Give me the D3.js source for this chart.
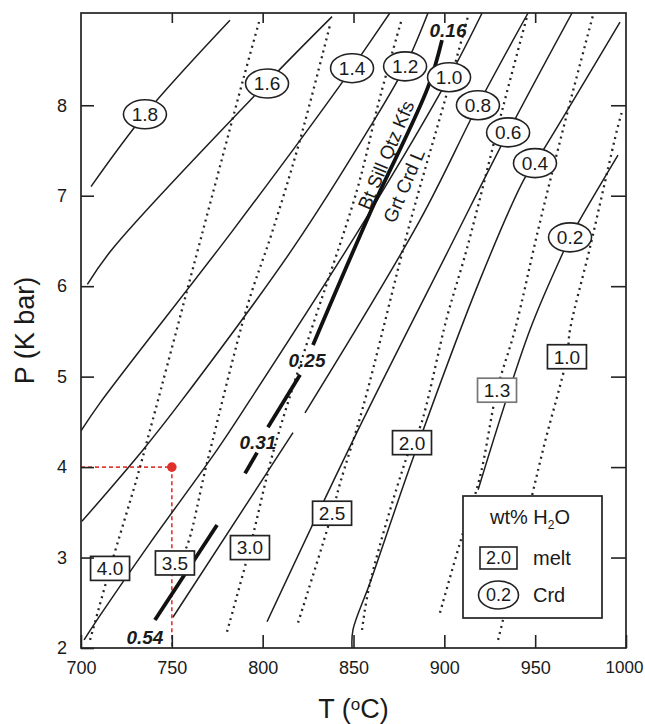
<!DOCTYPE html>
<html><head><meta charset="utf-8">
<script src="https://cdn.jsdelivr.net/npm/d3@7"></script>
<style>
body{margin:0;background:#fff}
text{font-family:"Liberation Sans",Arial,Helvetica,sans-serif;fill:#1a1a1a}
</style>
</head><body>
<svg id="chart" width="645" height="724"></svg>
<script>
// ---------------- data ----------------
const xTicks = [700, 750, 800, 850, 900, 950, 1000];
const yTicks = [2, 3, 4, 5, 6, 7, 8];

// Crd H2O isopleths (solid), [T, P]
const crdLabels = ["1.8", "1.6", "1.4", "1.2", "1.0", "0.8", "0.6", "0.4", "0.2"];
const crdLines = [
  [[705.5,7.10],[735.2,7.90],[782.0,8.94]],
  [[703.5,6.02],[717.6,6.42],[802.4,8.25],[838.2,8.98]],
  [[700,4.40],[710.5,4.71],[783.7,6.62],[842.6,8.22],[849.2,8.41],[870,9.02]],
  [[700.5,3.40],[734.1,4.19],[755.6,4.74],[816.7,6.42],[859.1,7.76],[878.4,8.43],[891,9.02]],
  [[701.7,2.09],[710.5,2.36],[738.0,3.16],[774.9,4.19],[793.0,4.74],[856.3,6.73],[902.6,8.31],[920.8,9.02]],
  [[750.6,2.34],[816.7,4.38],null,[823.3,4.60],[886.6,6.73],[918.5,8.00],[946.1,9.02]],
  [[802.4,2.29],[850.8,4.34],[903.1,6.43],[935.1,7.70],[970.3,9.02]],
  [[849.2,2.0],[849.7,2.20],[859.1,2.72],[882.8,4.10],[919.6,6.07],[944.4,7.20],[949.9,7.36],[996.7,8.92]],
  [[918.6,3.75],[947.2,5.52],[965.3,6.37],[969.2,6.54],[995.6,7.45]]
];
const crdLabelPos = [[735.2,7.90],[802.4,8.24],[849.2,8.41],[878.4,8.43],[902.6,8.31],[918.5,8.00],[935.1,7.70],[949.9,7.36],[969.2,6.54]];

// melt H2O isopleths (dotted), [T, P]
const meltLabels = ["4.0", "3.5", "3.0", "2.5", "2.0", "1.3", "1.0"];
const meltLines = [
  [[705.0,2.09],[716.0,2.88],[730.8,3.88],[738.0,4.41],[767.2,6.62],[789.2,8.28],[798.0,8.92]],
  [[751.7,2.94],[757.3,3.08],[769.4,4.05],[791.4,5.77],[805.1,6.59],[820.6,7.62],[837.1,8.89]],
  [[780.4,2.18],[793.0,3.11],[805.7,4.16],[824.4,5.37],[851.9,7.06],[864.6,8.09],[876.7,8.96]],
  [[819.5,2.28],[838.2,3.49],[842.6,3.82],[855.2,4.66],[881.1,6.70],[900.4,8.06],[913.0,8.98]],
  [[854.7,2.20],[859.1,2.72],[882.2,4.27],[886.6,4.44],[901.5,5.66],[912.5,6.42],[932.3,7.98],[945.5,8.98]],
  [[897.6,2.39],[908.6,3.16],[919.6,3.89],[929.0,4.85],[938.9,5.52],[951.6,6.62],[965.3,7.73],[981.9,9.0]],
  [[929.6,2.09],[932.3,2.31],[954.3,4.19],[967.5,5.22],[969.2,5.52],[980.2,6.43],[995.1,7.73],[997.8,7.93]]
];
const meltLabelPos = [[716.0,2.88],[751.7,2.94],[793.0,3.11],[838.2,3.49],[882.2,4.27],[929.0,4.85],[967.5,5.22]];

// reaction Bt + Sill + Qtz + Kfs = Grt + Crd + L (thick, broken)
const reactionSegments = [
  [[898.7,8.72],[891.0,8.20],[859.1,6.81],[827.7,5.35]],
  [[820.6,5.02],[802.9,4.44]],
  [[796.9,4.16],[790.3,3.93]],
  [[774.9,3.36],[740.7,2.31]]
];
const reactionLabels = ["0.16", "0.25", "0.31", "0.54"];
const reactionLabelPos = [[902.0,8.83],[824.4,5.18],[797.4,4.27],[735.2,2.12]];

const reactionText = ["Bt Sill Qtz Kfs", "Grt Crd L"];
const reactionTextPos = [[867.9,7.45],[877.8,7.11]];

const samplePoint = [750, 4];

// ---------------- drawing ----------------
const svg = d3.select("#chart");
const L = 81, R = 626, T = 13, B = 648;
const x = d3.scaleLinear().domain([700, 1000]).range([L, R]);
const y = d3.scaleLinear().domain([2, 9.02]).range([B, T]);

svg.append("defs").append("clipPath").attr("id", "plot")
  .append("rect").attr("x", L).attr("y", T).attr("width", R - L).attr("height", B - T);

const g = svg.append("g").attr("clip-path", "url(#plot)");

const line = d3.line().defined(d => d).x(d => x(d[0])).y(d => y(d[1])).curve(d3.curveCatmullRom.alpha(0.5));

// red sample lines
g.append("path")
  .attr("d", d3.line()([[x(700), y(samplePoint[1])], [x(samplePoint[0]), y(samplePoint[1])], [x(samplePoint[0]), y(2)]]))
  .attr("fill", "none").attr("stroke", "#e0403a").attr("stroke-width", 1.7).attr("stroke-dasharray", "4,3");

// melt dotted lines
g.selectAll(".melt").data(meltLines).enter().append("path")
  .attr("d", line).attr("fill", "none").attr("stroke", "#262626")
  .attr("stroke-width", 2.3).attr("stroke-dasharray", "2,4.2");

// Crd solid lines
g.selectAll(".crd").data(crdLines).enter().append("path")
  .attr("d", line).attr("fill", "none").attr("stroke", "#1e1e1e").attr("stroke-width", 1.5);

// reaction thick line
g.selectAll(".rx").data(reactionSegments).enter().append("path")
  .attr("d", line).attr("fill", "none").attr("stroke", "#111").attr("stroke-width", 3.8)
  .attr("stroke-linecap", "butt");

// red dot
g.append("circle").attr("cx", x(samplePoint[0])).attr("cy", y(samplePoint[1])).attr("r", 4.8).attr("fill", "#e0302a");

// reaction text
reactionText.forEach((t, i) => {
  const px = x(reactionTextPos[i][0]), py = y(reactionTextPos[i][1]);
  svg.append("text").attr("transform", `translate(${px},${py}) rotate(-67)`)
    .attr("text-anchor", "middle").attr("dy", "0.35em").attr("font-size", 19).text(t);
});

// reaction labels
reactionLabels.forEach((t, i) => {
  svg.append("text").attr("x", x(reactionLabelPos[i][0])).attr("y", y(reactionLabelPos[i][1]))
    .attr("text-anchor", "middle").attr("dy", "0.35em")
    .attr("font-size", 19).attr("font-weight", "bold").attr("font-style", "italic").text(t);
});

// Crd ellipse labels
crdLabels.forEach((t, i) => {
  const px = x(crdLabelPos[i][0]), py = y(crdLabelPos[i][1]);
  svg.append("ellipse").attr("cx", px).attr("cy", py).attr("rx", 21.5).attr("ry", 14.5)
    .attr("fill", "#fff").attr("stroke", "#222").attr("stroke-width", 1.6);
  svg.append("text").attr("x", px).attr("y", py).attr("dy", "0.36em")
    .attr("text-anchor", "middle").attr("font-size", 19).text(t);
});

// melt box labels
meltLabels.forEach((t, i) => {
  const px = x(meltLabelPos[i][0]), py = y(meltLabelPos[i][1]);
  svg.append("rect").attr("x", px - 19.5).attr("y", py - 12).attr("width", 39).attr("height", 24)
    .attr("fill", "#fff").attr("stroke", t === "1.3" ? "#777" : "#222").attr("stroke-width", 1.7);
  svg.append("text").attr("x", px).attr("y", py).attr("dy", "0.36em")
    .attr("text-anchor", "middle").attr("font-size", 19).text(t);
});

// axes
const fmt = d3.format("d");
const ax = svg.append("g").attr("transform", `translate(0,${B})`)
  .call(d3.axisBottom(x).tickValues(xTicks).tickFormat(fmt).tickSizeInner(-13).tickSizeOuter(0).tickPadding(13));
const ay = svg.append("g").attr("transform", `translate(${L},0)`)
  .call(d3.axisLeft(y).tickValues(yTicks).tickFormat(fmt).tickSizeInner(-13).tickSizeOuter(0).tickPadding(14));
const at = svg.append("g").attr("transform", `translate(0,${T})`)
  .call(d3.axisTop(x).tickValues(xTicks.slice(1, -1)).tickFormat("").tickSizeInner(-10).tickSizeOuter(0));
const ar = svg.append("g").attr("transform", `translate(${R},0)`)
  .call(d3.axisRight(y).tickValues(yTicks.slice(1)).tickFormat("").tickSizeInner(-15).tickSizeOuter(0));
[ax, ay, at, ar].forEach(a => {
  a.select(".domain").remove();
  a.selectAll("line").attr("stroke", "#222").attr("stroke-width", 1.6);
  a.selectAll("text").attr("font-size", 18).attr("fill", "#1a1a1a")
    .attr("font-family", '"Liberation Sans",Arial,sans-serif');
});
ax.selectAll("text").filter(d => d === 1000).attr("dx", -2).attr("text-anchor", "middle")
  .attr("font-size", 17);

// frame
svg.append("rect").attr("x", L).attr("y", T).attr("width", R - L).attr("height", B - T)
  .attr("fill", "none").attr("stroke", "#222").attr("stroke-width", 1.7);

// axis titles
svg.append("text").attr("transform", `translate(25,${(T + B) / 2}) rotate(-90)`)
  .attr("text-anchor", "middle").attr("dy", "0.35em").attr("font-size", 27).text("P (K bar)");
const tt = svg.append("text").attr("x", (L + R) / 2).attr("y", 718).attr("text-anchor", "middle").attr("font-size", 27);
tt.append("tspan").text("T (");
tt.append("tspan").attr("font-size", 17).attr("dy", -8).text("o");
tt.append("tspan").attr("dy", 8).text("C)");

// legend
const lg = svg.append("g");
lg.append("rect").attr("x", 463).attr("y", 496).attr("width", 139).attr("height", 122)
  .attr("fill", "#fff").attr("stroke", "#222").attr("stroke-width", 1.7);
const lt = lg.append("text").attr("x", 530).attr("y", 524).attr("text-anchor", "middle").attr("font-size", 20);
lt.append("tspan").text("wt% H");
lt.append("tspan").attr("font-size", 12).attr("dy", 5).text("2");
lt.append("tspan").attr("dy", -5).text("O");
lg.append("rect").attr("x", 480).attr("y", 547).attr("width", 37).attr("height", 22)
  .attr("fill", "#fff").attr("stroke", "#222").attr("stroke-width", 1.6);
lg.append("text").attr("x", 498.5).attr("y", 558).attr("dy", "0.36em").attr("text-anchor", "middle").attr("font-size", 18).text("2.0");
lg.append("text").attr("x", 533).attr("y", 558).attr("dy", "0.36em").attr("font-size", 20).text("melt");
lg.append("ellipse").attr("cx", 498.5).attr("cy", 595).attr("rx", 20).attr("ry", 14)
  .attr("fill", "#fff").attr("stroke", "#222").attr("stroke-width", 1.6);
lg.append("text").attr("x", 498.5).attr("y", 595).attr("dy", "0.36em").attr("text-anchor", "middle").attr("font-size", 18).text("0.2");
lg.append("text").attr("x", 533).attr("y", 595).attr("dy", "0.36em").attr("font-size", 20).text("Crd");
</script>
</body></html>
